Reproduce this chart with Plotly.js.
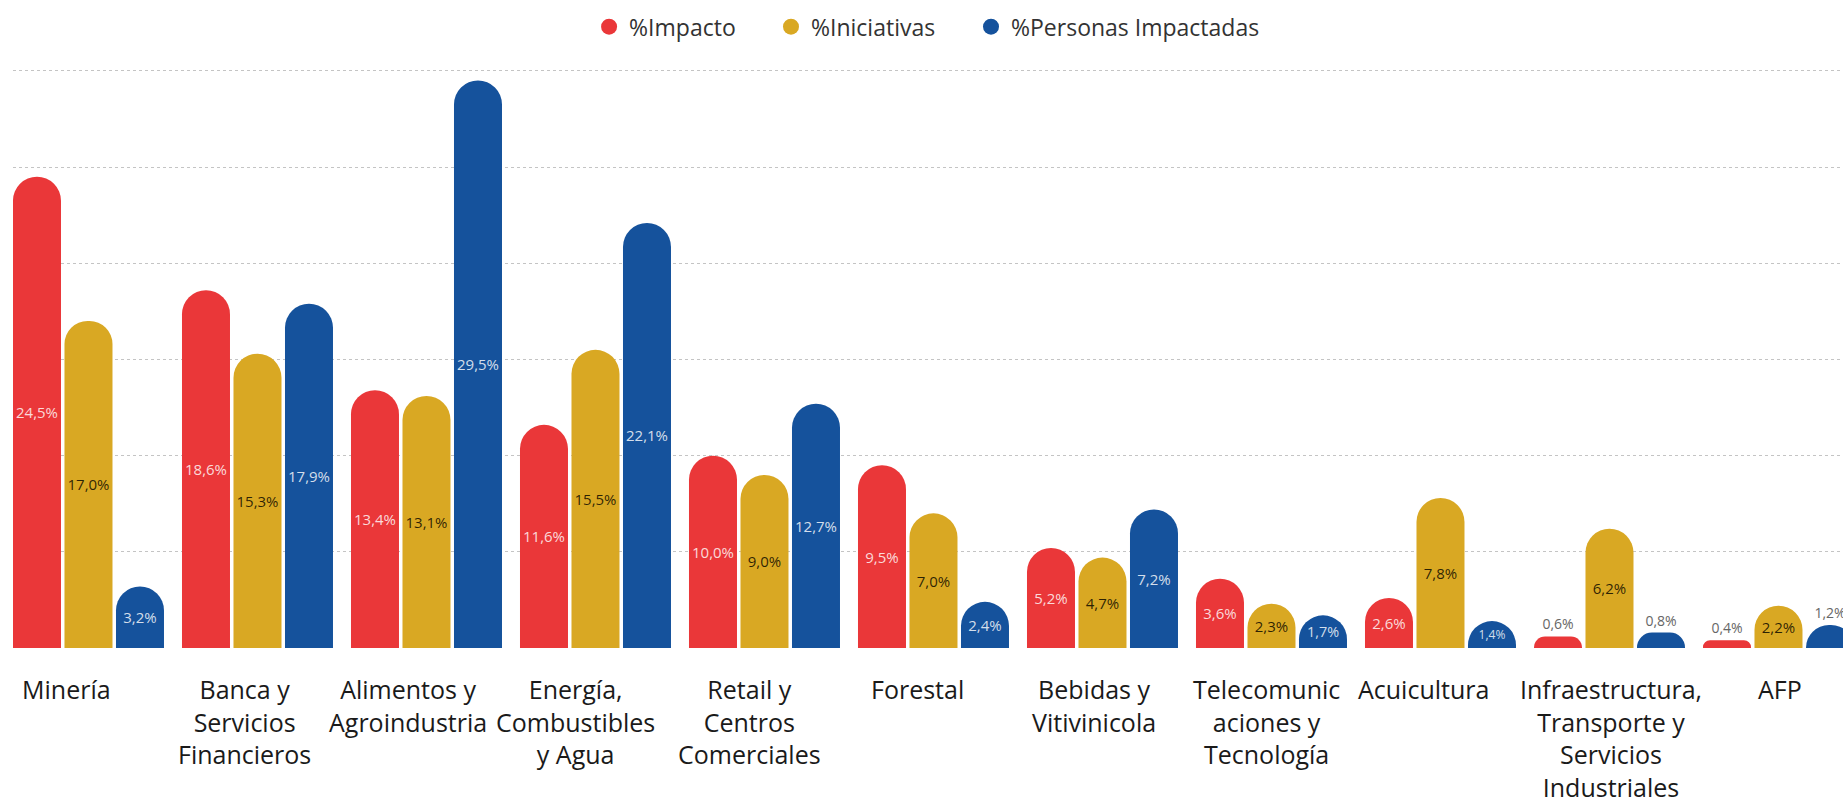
<!DOCTYPE html>
<html>
<head>
<meta charset="utf-8">
<script src="https://cdn.plot.ly/plotly-3.0.1.min.js"></script>
<style>
  html, body { margin: 0; padding: 0; background: #fff; overflow: hidden; }
  #chart { width: 1843px; height: 806px; }
</style>
</head>
<body>
<div id="chart"></div>
<script>
// ---- data ----
const categories = ['Minería', 'Banca y Servicios Financieros', 'Alimentos y Agroindustria',
  'Energía, Combustibles y Agua', 'Retail y Centros Comerciales', 'Forestal',
  'Bebidas y Vitivinicola', 'Telecomunicaciones y Tecnología', 'Acuicultura',
  'Infraestructura, Transporte y Servicios Industriales', 'AFP'];
const tickLabels = ['Minería', 'Banca y<br>Servicios<br>Financieros', 'Alimentos y<br>Agroindustria',
  'Energía,<br>Combustibles<br>y Agua', 'Retail y<br>Centros<br>Comerciales', 'Forestal',
  'Bebidas y<br>Vitivinicola', 'Telecomunic<br>aciones y<br>Tecnología', 'Acuicultura',
  'Infraestructura,<br>Transporte y<br>Servicios<br>Industriales', 'AFP'];
const seriesNames = ['%Impacto', '%Iniciativas', '%Personas Impactadas'];
const impacto     = [24.5, 18.6, 13.4, 11.6, 10.0, 9.5, 5.2, 3.6, 2.6, 0.6, 0.4];
const iniciativas = [17.0, 15.3, 13.1, 15.5, 9.0, 7.0, 4.7, 2.3, 7.8, 6.2, 2.2];
const personas    = [3.2, 17.9, 29.5, 22.1, 12.7, 2.4, 7.2, 1.7, 1.4, 0.8, 1.2];

// ---- style ----
const colors = ['#EA3739', '#D9A823', '#15529C'];
const insideColors = ['rgba(255,255,255,0.82)', 'rgba(20,15,0,0.88)', 'rgba(255,255,255,0.82)'];
const FONT = 'Open Sans, sans-serif';
// horizontal pixel offset of each category label from its group centre (style only)
const labelShift = [-22, -13, -18, -20, -15, -16, -8, -5, -17, 2, 2];
const series = [impacto, iniciativas, personas];

function positions(vals) {
  return vals.map(v => v < 1.3 ? 'outside' : 'inside');
}

const traces = [];
series.forEach((vals, i) => {
  traces.push({
    type: 'bar',
    x: categories,
    y: vals,
    name: seriesNames[i],
    showlegend: false,
    marker: { color: colors[i], cornerradius: '50%' },
    texttemplate: '%{y:.1f}%',
    textposition: positions(vals),
    insidetextanchor: 'middle',
    constraintext: 'none',
    insidetextfont: { family: FONT, size: 15, color: insideColors[i] },
    outsidetextfont: { family: FONT, size: 14, color: '#666666' },
    textangle: 0,
    cliponaxis: true,
    hoverinfo: 'x+y'
  });
});
// legend entries (circle symbols)
const legendIds = ['legend', 'legend2', 'legend3'];
series.forEach((vals, i) => {
  traces.push({
    type: 'scatter', mode: 'markers',
    x: [null], y: [null],
    name: seriesNames[i],
    legend: legendIds[i],
    marker: { color: colors[i], size: 16, symbol: 'circle' },
    hoverinfo: 'skip'
  });
});

const legendFont = { family: FONT, size: 23, color: '#333333' };
const legendY = 1.073;
function legendAt(x) {
  return { orientation: 'h', x: x, xanchor: 'left', y: legendY, yanchor: 'middle',
           font: legendFont, bgcolor: 'rgba(0,0,0,0)', borderwidth: 0 };
}

// category labels, placed on the x axis scale
const annotations = categories.map((c, i) => ({
  x: c, xref: 'x', y: 0, yref: 'y',
  text: tickLabels[i],
  showarrow: false,
  xanchor: 'center', yanchor: 'top', align: 'center',
  xshift: labelShift[i], yshift: -22,
  font: { family: FONT, size: 25, color: '#1a1a1a' }
}));

const layout = {
  width: 1843, height: 806,
  margin: { l: 13, r: 0, t: 69, b: 158, pad: 0 },
  paper_bgcolor: '#ffffff', plot_bgcolor: '#ffffff',
  font: { family: FONT, color: '#222222' },
  separators: ',.',
  barmode: 'group',
  bargap: 0.0858,
  bargroupgap: 0.068,
  showlegend: true,
  legend: legendAt(0.3148),
  legend2: legendAt(0.4142),
  legend3: legendAt(0.5235),
  annotations: annotations,
  xaxis: {
    type: 'category',
    range: [-0.4467, 10.3817],
    showticklabels: false,
    ticks: '',
    showgrid: false, showline: false, zeroline: false,
    fixedrange: true
  },
  yaxis: {
    range: [0, 30.1],
    dtick: 5,
    showticklabels: false,
    showgrid: true,
    gridcolor: '#c4c4c4',
    griddash: 'dot',
    gridwidth: 1,
    zeroline: false,
    showline: false,
    ticks: '',
    fixedrange: true
  }
};

Plotly.newPlot('chart', traces, layout, { displayModeBar: false, staticPlot: true });
</script>
</body>
</html>
